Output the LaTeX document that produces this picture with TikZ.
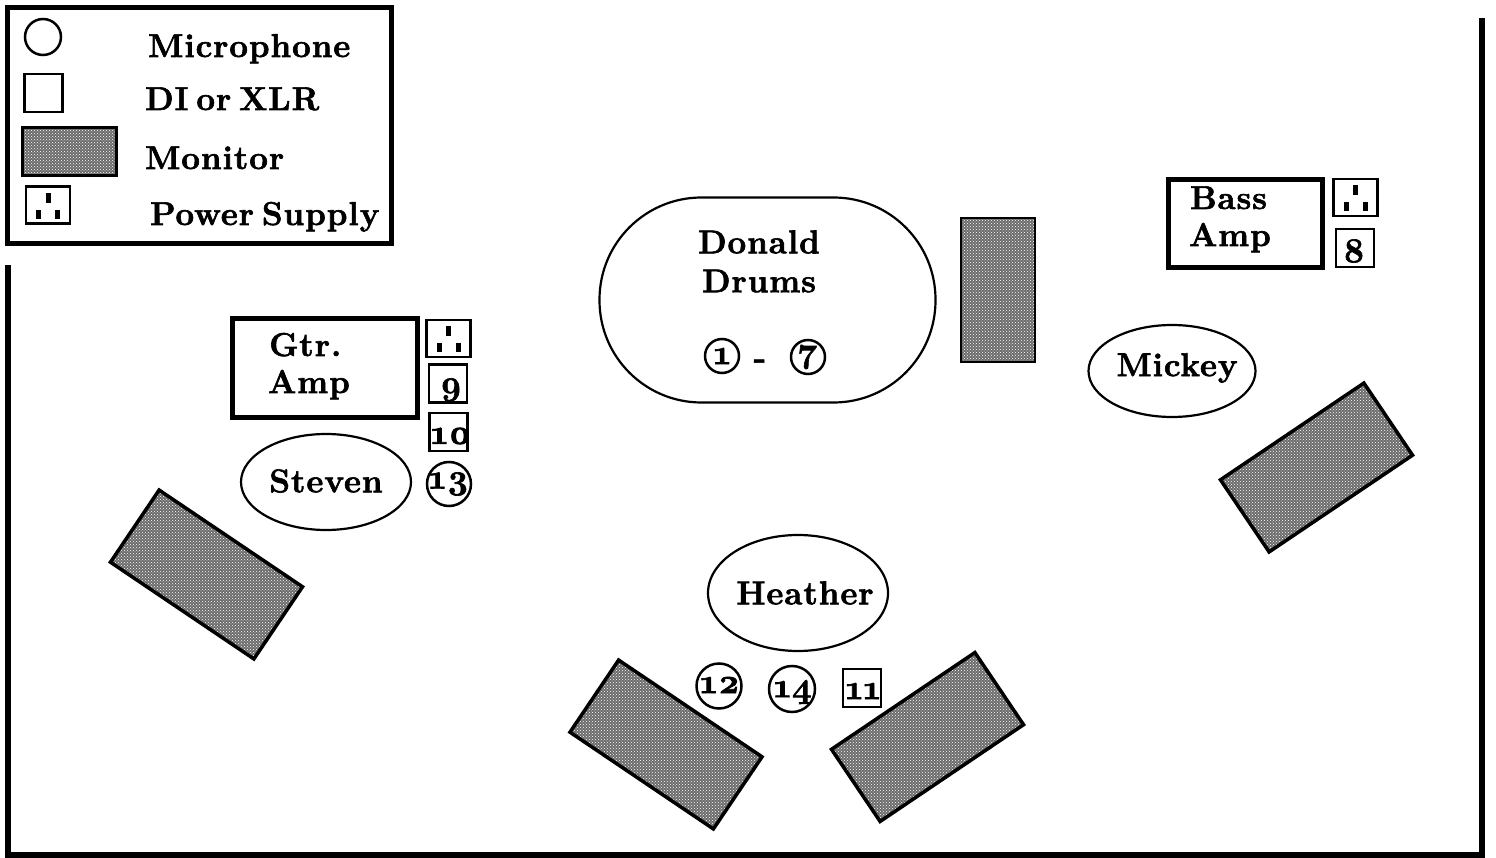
\documentclass[tikz,border=0pt]{standalone}
\usepackage{fontspec}
\setmainfont{Latin Modern Roman}[Numbers=OldStyle,BoldFeatures={FakeBold=1.9,LetterSpace=3,WordSpace=0.6}]
\usepackage{tikz}
\usetikzlibrary{patterns,shapes.geometric}
\tikzset{
  lbl/.style={inner sep=0pt,anchor=base west,font=\fontsize{33}{38}\selectfont\bfseries},
  txt/.style={inner sep=0pt,anchor=center,font=\fontsize{33}{38}\selectfont\bfseries},
  num/.style={inner sep=0pt,anchor=center,font=\fontsize{35}{38}\selectfont\bfseries},
  wall/.style={line width=6pt},
  mic/.style={circle,draw=black,line width=2.5pt,inner sep=0pt,minimum size=#1},
  di/.style={rectangle,draw=black,line width=2.8pt,inner sep=0pt,minimum size=#1},
  player/.style={ellipse,draw=black,line width=2.2pt,inner sep=0pt},
  amp/.style={rectangle,draw=black,line width=5pt,inner sep=0pt},
  monitor/.style={rectangle,draw=black,line width=2.5pt,inner sep=0pt,
    preaction={fill=black!58},pattern=crosshatch dots,pattern color=white,
    minimum width=173pt,minimum height=87pt},
  tilted/.style={monitor,line width=3.5pt},
  pin/.style={fill=black,draw=none}
}
\begin{document}
\begin{tikzpicture}[x=1pt,y=-1pt]
\useasboundingbox (0,0) rectangle (1496,858);
% walls
\coordinate (wl) at (8,265);
\coordinate (bl) at (8,855);
\coordinate (br) at (1482,855);
\coordinate (tr) at (1482,18);
\draw[wall] (wl) -- (bl) -- (br) -- (tr);
% legend
\node (key) at (199.5,125.5) [rectangle,draw=black,line width=5pt,minimum width=384pt,minimum height=236pt,inner sep=0pt] {};
\node (keymic) at (43,37) [mic=36pt] {};
\node (keydi) at (43.5,93) [di=38pt] {};
\node (keymon) at (69.5,151.5) [monitor,minimum width=94pt,minimum height=48pt] {};
\node (t1) at (148,57) [lbl] {Microphone};
\node (t2) at (145,110) [lbl] {DI or XLR};
\node (t3) at (145,169) [lbl] {Monitor};
\node (t4) at (150,225) [lbl] {Power Supply};
% power supplies
\foreach \px/\py/\pname in {48/205/keyps,448.5/338.5/gtrps,1355.5/197.5/bassps}{
  \node (\pname) at (\px,\py) [di=0pt,minimum width=44pt,minimum height=37pt] {};
  \fill[pin] (\px-2.5,\py-12) rectangle (\px+2.5,\py-2);
  \fill[pin] (\px-12,\py+5) rectangle (\px-7,\py+14);
  \fill[pin] (\px+7,\py+5) rectangle (\px+12,\py+14);
}
% drums
\node (drums) at (767.5,300) [rectangle,rounded corners=102pt,draw=black,line width=2.2pt,minimum width=336pt,minimum height=205pt,inner sep=0pt] {};
\node (t5) at (759,242) [txt] {Donald};
\node (t6) at (759,281) [txt] {Drums};
\node (m1) at (722,356) [mic=34pt] {};
\node (m7) at (808,357) [mic=34pt] {};
\node (t7) at (722,356) [num] {1};
\node (t8) at (808,357) [num] {7};
\node (t9) at (760,364) [txt] {-};
\node (mond) at (998,290) [monitor,minimum width=74pt,minimum height=144pt] {};
% guitar
\node (gtr) at (324.5,368) [amp,minimum width=185pt,minimum height=98pt] {};
\node (t10) at (269,356) [lbl] {Gtr.};
\node (t11) at (268,393) [lbl] {Amp};
\node (d9) at (448,383.5) [di=38pt] {};
\node (t12) at (451,390) [num] {9};
\node (d10) at (448.5,432) [di=38pt] {};
\node (t13) at (451,436) [num] {10};
\node (m13) at (449,484) [mic=44pt] {};
\node (t14) at (449,484) [num] {13};
\node (steven) at (326,482) [player,minimum width=170pt,minimum height=96pt] {};
\node (t15) at (326,481) [txt] {Steven};
\node (mons) at (206.5,574.5) [tilted,rotate=-34] {};
% singer
\node (heather) at (798,593) [player,minimum width=180pt,minimum height=116pt] {};
\node (t16) at (805,593) [txt] {Heather};
\node (m12) at (719,686) [mic=45pt] {};
\node (t17) at (720,685) [num] {12};
\node (m14) at (792,689) [mic=46pt] {};
\node (t18) at (793,692) [num] {14};
\node (d11) at (862,688) [di=38pt] {};
\node (t19) at (863,691) [num] {11};
\node (monh1) at (666,744.5) [tilted,rotate=-34] {};
\node (monh2) at (927.5,737) [tilted,rotate=34] {};
% bass
\node (bass) at (1245,224) [amp,minimum width=154pt,minimum height=88pt] {};
\node (t20) at (1190,209) [lbl] {Bass};
\node (t21) at (1189,246) [lbl] {Amp};
\node (d8) at (1355,248) [di=38pt] {};
\node (t22) at (1354,251) [num] {8};
\node (mickey) at (1172,371) [player,minimum width=167pt,minimum height=92pt] {};
\node (t23) at (1177,368) [txt] {Mickey};
\node (monm) at (1316.5,467.5) [tilted,rotate=34] {};
\end{tikzpicture}
\end{document}
